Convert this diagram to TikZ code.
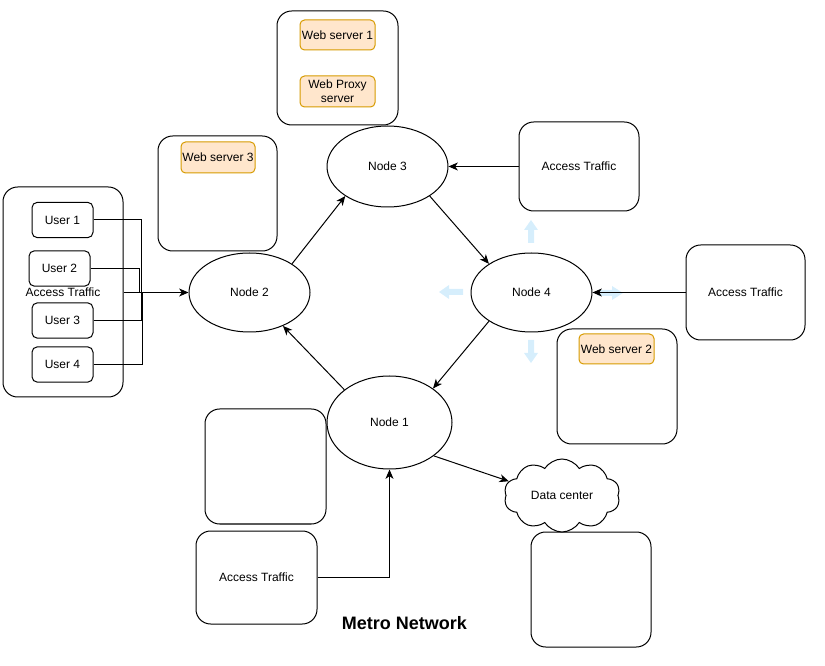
\documentclass[tikz,border=0pt]{standalone}
\usepackage{fontspec}
\setmainfont{Liberation Sans}
\usetikzlibrary{shapes.geometric,shapes.symbols,arrows.meta,calc}
\definecolor{orfill}{HTML}{FFE6CC}
\definecolor{ordraw}{HTML}{D79B00}
\definecolor{hintblue}{RGB}{214,238,252}
\tikzset{
  bigbox/.style={draw, rounded corners=11pt, line width=0.75pt, fill=white, inner sep=0pt, font=\fontsize{9}{11}\selectfont},
  userbox/.style={draw, rounded corners=4pt, line width=0.75pt, fill=white, minimum width=45.75pt, minimum height=26.5pt, inner sep=0pt, font=\fontsize{9}{11}\selectfont},
  orbox/.style={draw=ordraw, fill=orfill, rounded corners=3.4pt, line width=0.75pt, minimum width=56.25pt, minimum height=22.5pt, inner sep=0pt, align=center, font=\fontsize{9}{10.5}\selectfont},
  netnode/.style={draw, ellipse, line width=0.75pt, fill=white, minimum width=90.75pt, minimum height=59.25pt, inner sep=0pt, font=\fontsize{9}{11}\selectfont},
  arr/.style={line width=0.75pt, -{Stealth[length=7pt,width=6pt,inset=2pt]}},
  ln/.style={line width=0.75pt},
  hint/.style={fill=hintblue, draw=none}
}
\begin{document}
\begin{tikzpicture}[x=0.75pt,y=-0.75pt]
\useasboundingbox (0,0) rectangle (825,666);

% hint arrows (light blue)
\fill[hint] (528,243) -- (528,230) -- (524,230) -- (531,220) -- (538,230) -- (534,230) -- (534,243) -- cycle;
\fill[hint] (528,340) -- (528,353) -- (524,353) -- (531,363) -- (538,353) -- (534,353) -- (534,340) -- cycle;
\fill[hint] (463,289) -- (449,289) -- (449,285) -- (439,292) -- (449,299) -- (449,295) -- (463,295) -- cycle;
\fill[hint] (598,290) -- (612,290) -- (612,286) -- (623,293) -- (612,300) -- (612,296) -- (598,296) -- cycle;

% containers
\node[bigbox, minimum width=90.75pt, minimum height=85.5pt] (tb) at (337.5,68) {};
\node[orbox] (ws1) at (337.5,35) {Web server 1};
\node[orbox, minimum height=23.25pt] (wp) at (337.5,91.5) {Web Proxy\\server};

\node[bigbox, minimum width=89.25pt, minimum height=86.25pt] (box3) at (217.5,193.5) {};
\node[orbox, minimum width=55.5pt, minimum height=23.25pt] (ws3) at (218,157.5) {Web server 3};

\node[bigbox, minimum width=90pt, minimum height=157.5pt] (grp) at (63,292) {Access Traffic};
\node[userbox] (u1) at (62.5,220) {User 1};
\node[userbox] (u2) at (59.5,268.5) {User 2};
\node[userbox] (u3) at (62.5,320.5) {User 3};
\node[userbox] (u4) at (62.5,364.5) {User 4};

\node[bigbox, minimum width=90pt, minimum height=66.75pt] (atT) at (579,166.5) {Access Traffic};
\node[bigbox, minimum width=89.25pt, minimum height=71.25pt] (atR) at (745.5,292.5) {Access Traffic};

\node[bigbox, minimum width=90pt, minimum height=86.25pt] (box2) at (617,386.5) {};
\node[orbox] (ws2) at (616.5,349) {Web server 2};

\node[bigbox, minimum width=90.75pt, minimum height=86.25pt] (boxE) at (265.5,466.5) {};
\node[bigbox, minimum width=90pt, minimum height=86.25pt] (boxF) at (591,589.5) {};
\node[bigbox, minimum width=90.75pt, minimum height=69.75pt] (atB) at (256.5,577.5) {Access Traffic};

% network nodes
\node[netnode, minimum height=60.75pt] (n3) at (387.5,166.5) {Node 3};
\node[netnode] (n2) at (249.5,292.5) {Node 2};
\node[netnode] (n4) at (531.5,292.5) {Node 4};
\node[netnode, minimum width=93.75pt, minimum height=69.75pt] (n1) at (389.5,422.5) {Node 1};
\node[draw, cloud, cloud puffs=10, cloud puff arc=115, cloud ignores aspect, line width=0.75pt, fill=white, minimum width=87pt, minimum height=54.75pt, inner sep=0pt, font=\fontsize{9}{11}\selectfont] (dc) at (562,495.5) {Data center};

% user connectors
\coordinate (j1) at (141,292.5);
\coordinate (j2) at (139,292.5);
\coordinate (j3) at (141,292.5);
\coordinate (j4) at (142,292.5);
\draw[ln] (u1.east) -| (j1);
\draw[ln] (u2.east) -| (j2);
\draw[ln] (u3.east) -| (j3);
\draw[ln] (u4.east) -| (j4);
\draw[arr] (grp.east |- n2.west) -- (n2.west);

% ring
\draw[arr] (n2.34) -- (n3.-145);
\draw[arr] (n3.-35) -- (n4.146);
\draw[arr] (n4.-146) -- (n1.38);
\draw[arr] (n1.144) -- (n2.-45);
\draw[arr] (n1.-37) -- (dc.165);

% access connectors
\draw[arr] (atT.west) -- (n3.east);
\draw[arr] (atR.west) -- (n4.east);
\draw[arr] (atB.east) -| (n1.south);

% title
\node[font=\fontsize{13.5}{16}\selectfont\bfseries] (title) at (404.5,623.5) {Metro Network};
\end{tikzpicture}
\end{document}
